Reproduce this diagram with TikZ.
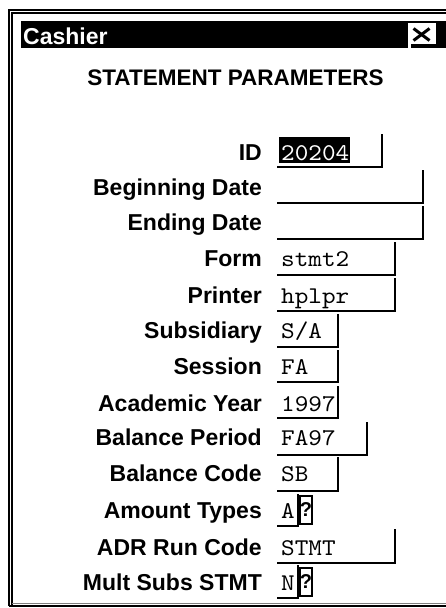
\documentclass[tikz,border=0pt]{standalone}
\usepackage{fontspec}
\setmainfont{Liberation Sans}
\newfontfamily\monofnt{lmmono10-regular.otf}[FakeStretch=1.08]
\begin{document}
\begin{tikzpicture}[x=1pt,y=-1pt,
  lbl/.style={anchor=base east,inner sep=0pt,font=\fontsize{23}{25}\selectfont\bfseries},
  val/.style={anchor=base west,inner sep=0pt,font=\fontsize{24}{26}\monofnt},
  fieldline/.style={line width=1.8pt,line cap=rect},
  frameline/.style={line width=1.6pt},
  lookup/.style={draw,line width=1.6pt,fill=white,inner sep=0pt,minimum width=12pt,minimum height=28pt,font=\fontsize{20}{20}\selectfont\bfseries}
]
\useasboundingbox (0,0) rectangle (446,608);
\fill[white] (0,0) rectangle (446,608);
% window frame
\draw[frameline] (446,10) -- (9,10) -- (9,606);
\draw[frameline] (446,13) -- (12,13) -- (12,606);
\draw[line width=2pt] (9,606) -- (446,606);
\draw[gray,line width=1pt] (12,603.5) -- (446,603.5);
% title bar
\fill[black] (21,21) rectangle (446,48);
\node[anchor=base west,inner sep=0pt,text=white,font=\fontsize{23}{25}\selectfont\bfseries] (cashier) at (23,44.5) {Cashier};
\fill[white] (408,23) rectangle (436,44);
\fill[white] (408,44) rectangle (411,48);
\coordinate (xa) at (413.5,28.5);
\coordinate (xb) at (429.5,40.5);
\coordinate (xc) at (413.5,40.5);
\coordinate (xd) at (429.5,28.5);
\draw[line width=3pt] (xa) -- (xb);
\draw[line width=3pt] (xc) -- (xd);
% heading
\node[anchor=base,inner sep=0pt,font=\fontsize{22.5}{25}\selectfont\bfseries] (head) at (235.5,85) {STATEMENT PARAMETERS};
% labels
\node[lbl] (lid)  at (262,160) {ID};
\node[lbl] (lbd)  at (262,195) {Beginning Date};
\node[lbl] (led)  at (262,230) {Ending Date};
\node[lbl] (lfo)  at (262,266) {Form};
\node[lbl] (lpr)  at (262,303) {Printer};
\node[lbl] (lsu)  at (262,338) {Subsidiary};
\node[lbl] (lse)  at (262,374) {Session};
\node[lbl] (lay)  at (262,411) {Academic Year};
\node[lbl] (lbp)  at (262,445) {Balance Period};
\node[lbl] (lbc)  at (262,481) {Balance Code};
\node[lbl] (lat)  at (262,518) {Amount Types};
\node[lbl] (lad)  at (262,555) {ADR Run Code};
\node[lbl] (lms)  at (262,590) {Mult Subs STMT};
% field boxes
\draw[fieldline] (278,167) -- (382,167) -- (382,135);
\draw[fieldline] (278,203) -- (423,203) -- (423,171);
\draw[fieldline] (278,239) -- (423,239) -- (423,207);
\draw[fieldline] (278,275) -- (395,275) -- (395,243);
\draw[fieldline] (278,311) -- (395,311) -- (395,279);
\draw[fieldline] (278,347) -- (338,347) -- (338,315);
\draw[fieldline] (278,382) -- (338,382) -- (338,351);
\draw[fieldline] (278,418) -- (338,418) -- (338,387);
\draw[fieldline] (278,455) -- (367,455) -- (367,423);
\draw[fieldline] (278,491) -- (338,491) -- (338,458);
\draw[fieldline] (278,526) -- (298,526) -- (298,495);
\draw[fieldline] (278,563) -- (395,563) -- (395,530);
\draw[fieldline] (278,598) -- (298,598) -- (298,566);
% values
\fill[black] (279,137) rectangle (350,163);
\node[val,text=white] (vid) at (281,160) {20204};
\node[val] (vfo) at (281,266) {stmt2};
\node[val] (vpr) at (281,303) {hplpr};
\node[val] (vsu) at (281,338) {S/A};
\node[val] (vse) at (281,374) {FA};
\node[val] (vay) at (281,411) {1997};
\node[val] (vbp) at (281,445) {FA97};
\node[val] (vbc) at (281,481) {SB};
\node[val] (vat) at (281,518) {A};
\node[val] (vad) at (281,555) {STMT};
\node[val] (vms) at (281,590) {N};
\node[lookup] (bat) at (306,510) {?};
\node[lookup] (bms) at (306,582) {?};
\end{tikzpicture}
\end{document}
